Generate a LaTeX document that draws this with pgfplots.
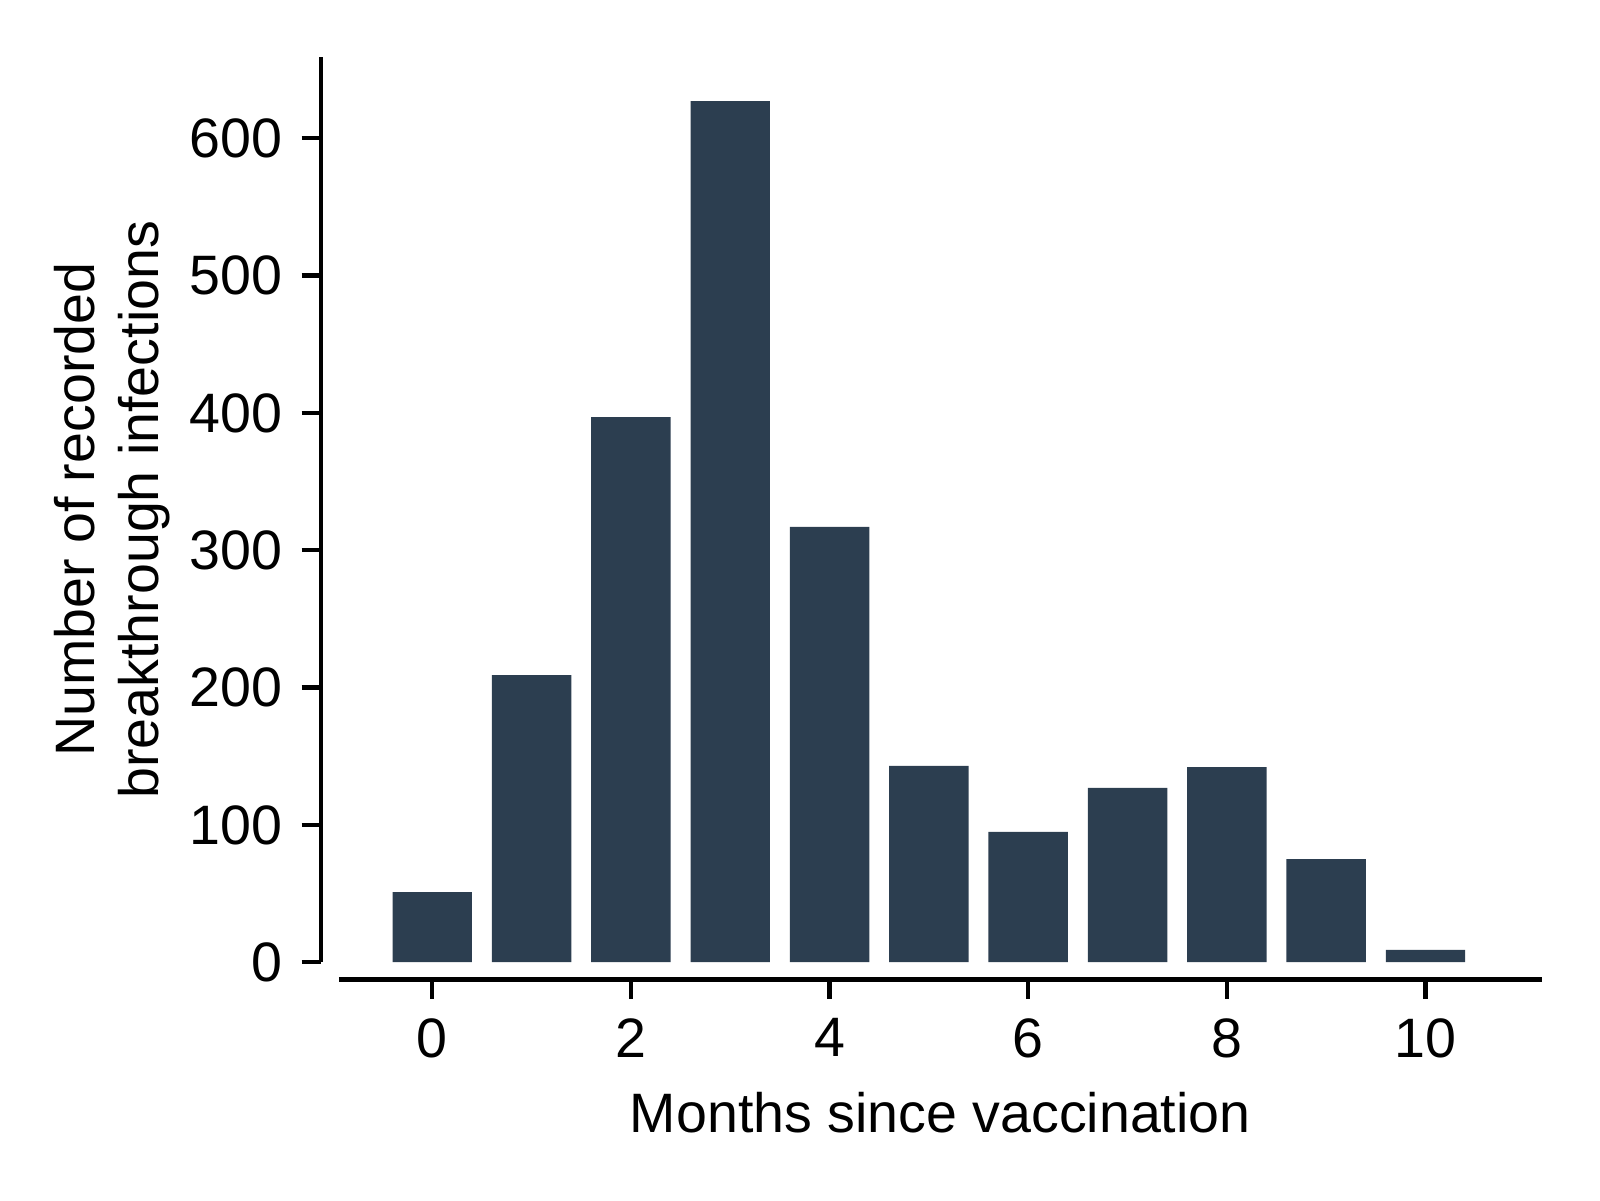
\documentclass[border=0pt]{standalone}
\usepackage{pgfplots}
\pgfplotsset{compat=1.18}
\usepackage{fontspec}
\setmainfont{Liberation Sans}
\definecolor{barcol}{HTML}{2C3E50}
\begin{document}
\begin{tikzpicture}
\path[use as bounding box] (0,0) rectangle (288pt,216pt);
\begin{axis}[
  at={(61.0pt,42.8pt)}, anchor=south west,
  scale only axis,
  width=216.5pt, height=162.9pt,
  xmin=-0.94, xmax=11.17, ymin=0, ymax=659,
  axis x line*=bottom, axis y line*=left,
  axis x line shift=3.1pt, axis y line shift=3.2pt,
  axis line style={-, line width=0.8pt},
  every tick/.style={black, line width=0.8pt},
  tick align=outside, major tick length=3.5pt,
  xtick={0,2,4,6,8,10}, ytick={0,100,200,300,400,500,600},
  minor tick num=0,
  /pgf/number format/assume math mode=true,
  tick label style={font=\fontsize{10}{12}\selectfont},
  xlabel={Months since vaccination},
  ylabel={Number of recorded\\breakthrough infections},
  ylabel style={align=center, font=\fontsize{10}{11.5}\selectfont},
  xlabel style={font=\fontsize{10}{12}\selectfont},
  ylabel shift=-3.3pt, xlabel shift=-0.7pt,
  ybar, bar width=0.8,
]
\addplot[fill=barcol, draw=none] coordinates {
(0,51) (1,209) (2,397) (3,627) (4,317) (5,143) (6,95) (7,127) (8,142) (9,75) (10,9)
};
\end{axis}
\end{tikzpicture}
\end{document}
